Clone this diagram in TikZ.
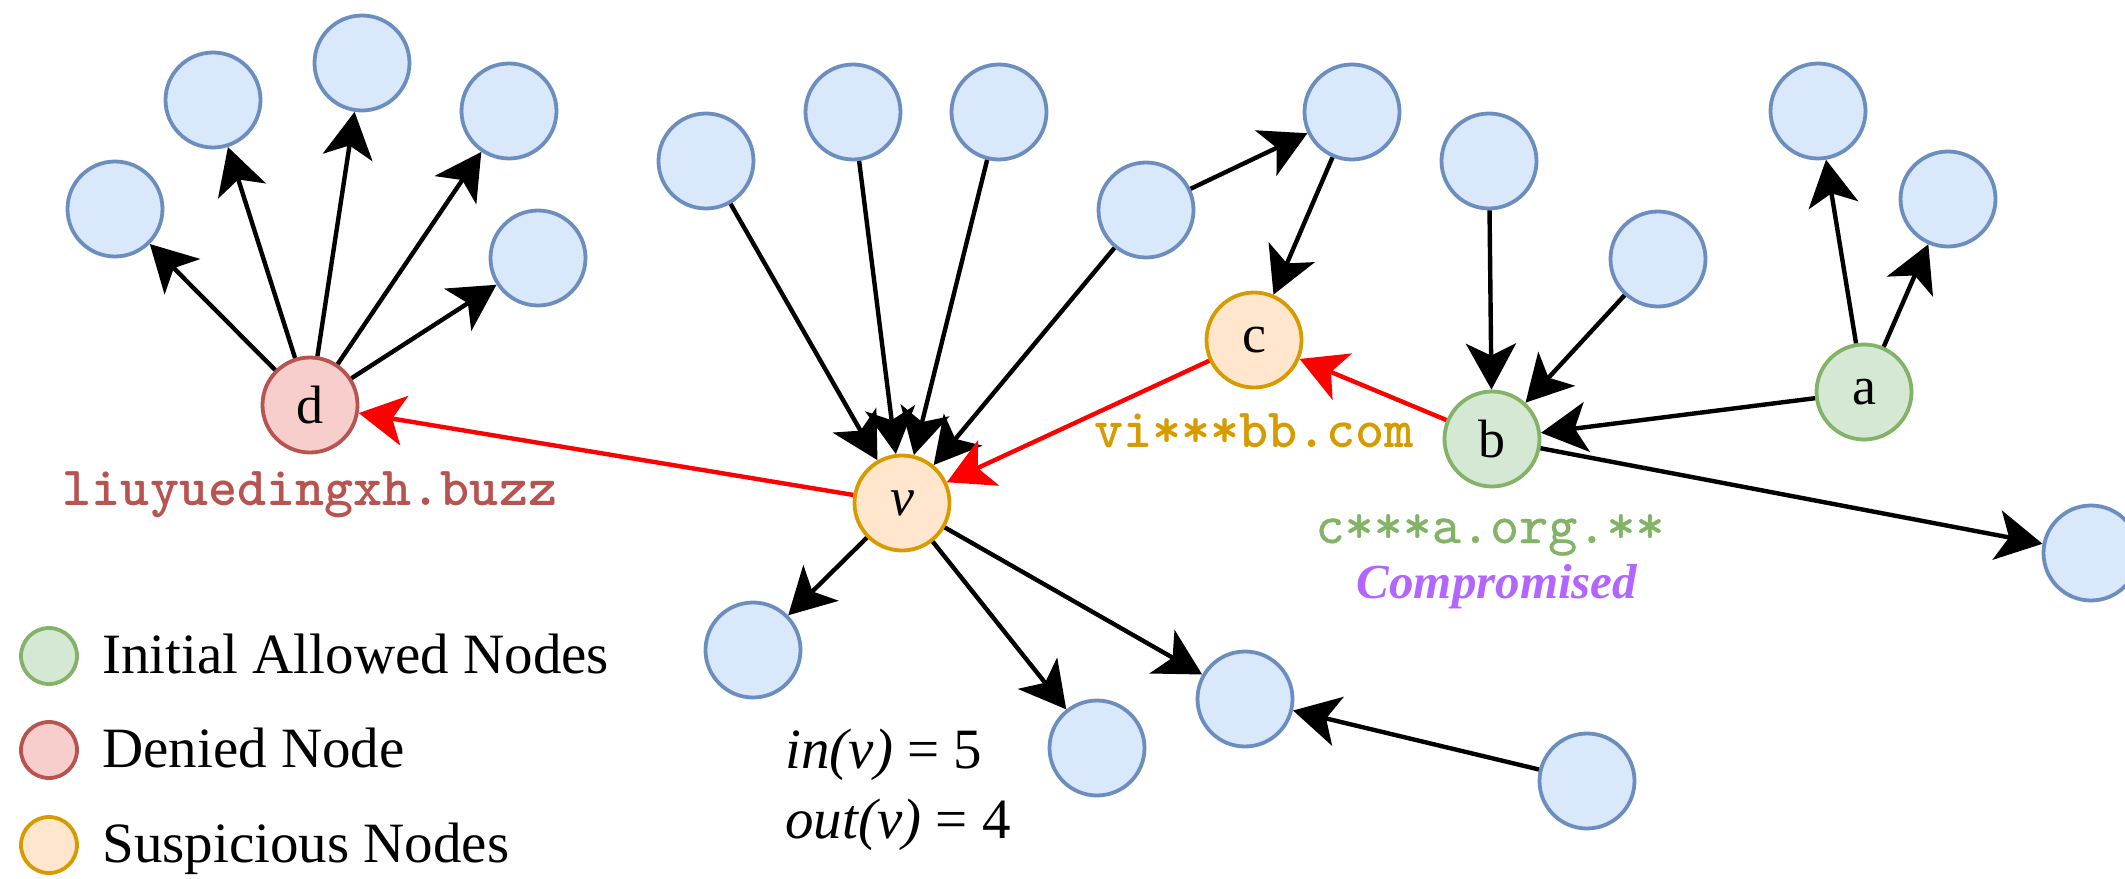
\documentclass[tikz,border=0pt]{standalone}
\usepackage{fontspec}
\setmainfont{Liberation Serif}
\newfontfamily\urlbold{lmmonolt10-bold.otf}
\newfontfamily\urlplain{lmmono10-regular.otf}[FakeBold=0.6]
\usetikzlibrary{arrows.meta}

\definecolor{blueFill}{HTML}{DAE8FC}
\definecolor{blueLine}{HTML}{6C8EBF}
\definecolor{greenFill}{HTML}{D5E8D4}
\definecolor{greenLine}{HTML}{82B366}
\definecolor{redFill}{HTML}{F8CECC}
\definecolor{redLine}{HTML}{B85450}
\definecolor{orangeFill}{HTML}{FFE6CC}
\definecolor{orangeLine}{HTML}{D79B00}
\definecolor{purpleText}{HTML}{B266FF}
\definecolor{alertRed}{HTML}{FF0000}

\begin{document}
\begin{tikzpicture}[x=0.5pt,y=-0.5pt,
  vertex/.style={circle, line width=1.9pt, minimum size=47.5pt, inner sep=0pt,
                 font=\fontsize{27}{30}\selectfont},
  plain/.style={vertex, draw=blueLine, fill=blueFill},
  allowed/.style={vertex, draw=greenLine, fill=greenFill},
  denied/.style={vertex, draw=redLine, fill=redFill},
  suspect/.style={vertex, draw=orangeLine, fill=orangeFill},
  keydot/.style={circle, line width=1.9pt, minimum size=28pt, inner sep=0pt},
  keytext/.style={anchor=base west, inner sep=0pt, font=\fontsize{28.5}{32}\selectfont},
  urllabel/.style={anchor=base, inner sep=0pt},
  link/.style={line width=2.2pt, -{Stealth[length=23pt,width=25pt,inset=6pt]}},
  blacklink/.style={link, draw=black},
  redlink/.style={link, draw=alertRed},
]
\useasboundingbox (0,0) rectangle (2125,878);

% left cluster around the denied node
\node[denied]  (d)  at (310,405) {d};
\node[plain]   (d1) at (115,209) {};
\node[plain]   (d2) at (213,100) {};
\node[plain]   (d3) at (362,63)  {};
\node[plain]   (d4) at (509,111) {};
\node[plain]   (d5) at (538,258) {};

% central suspicious node and its neighbours
\node[suspect] (v)  at (902,503) {\textit{v}};
\node[plain]   (v1) at (706,161) {};
\node[plain]   (v2) at (853,112) {};
\node[plain]   (v3) at (999,112) {};
\node[plain]   (v4) at (1146,210) {};
\node[plain]   (o1) at (753,650) {};
\node[plain]   (o2) at (1097,748) {};
\node[plain]   (o3) at (1245,699) {};
\node[plain]   (o4) at (1587,781) {};

% second suspicious node
\node[suspect] (c)  at (1254,340) {c};
\node[plain]   (c1) at (1352,112) {};

% allowed nodes on the right
\node[allowed] (b)  at (1492,439) {b};
\node[allowed] (a)  at (1864,392) {a};
\node[plain]   (b1) at (1489,161) {};
\node[plain]   (b2) at (1658,259) {};
\node[plain]   (a1) at (1818,111) {};
\node[plain]   (a2) at (1948,199) {};
\node[plain]   (br) at (2091,553) {};

% edges
\foreach \t in {d1,d2,d3,d4,d5} \draw[blacklink] (d) -- (\t);
\foreach \s in {v1,v2,v3,v4} \draw[blacklink] (\s) -- (v);
\draw[blacklink] (v4) -- (c1);
\draw[blacklink] (c1) -- (c);
\foreach \t in {o1,o2,o3} \draw[blacklink] (v) -- (\t);
\draw[blacklink] (o4) -- (o3);
\draw[blacklink] (b1) -- (b);
\draw[blacklink] (b2) -- (b);
\draw[blacklink] (a) -- (b);
\draw[blacklink] (a) -- (a1);
\draw[blacklink] (a) -- (a2);
\draw[blacklink] (b) -- (br);
\draw[redlink] (b) -- (c);
\draw[redlink] (c) -- (v);
\draw[redlink] (v) -- (d);

% domain labels
\node[urllabel, text=redLine, font=\urlbold\fontsize{27.7}{32}\selectfont] (ld) at (310,505)
  {liuyuedingxh.buzz};
\node[urllabel, text=orangeLine, font=\urlbold\fontsize{27.7}{32}\selectfont] (lc) at (1254,447)
  {vi***bb.com};
\node[urllabel, text=greenLine, font=\urlplain\fontsize{27.7}{32}\selectfont] (lb) at (1490,543)
  {c***a.org.**};
\node[anchor=base, inner sep=0pt, text=purpleText,
      font=\bfseries\itshape\fontsize{24.5}{28}\selectfont] (lcomp) at (1497,598) {Compromised};

% degree annotation
\node[keytext] (indeg)  at (785,768) {\textit{in(v)} = 5};
\node[keytext] (outdeg) at (785,838) {\textit{out(v)} = 4};

% legend
\node[keydot, draw=greenLine, fill=greenFill]   (k1) at (49,656) {};
\node[keydot, draw=redLine, fill=redFill]       (k2) at (49,750) {};
\node[keydot, draw=orangeLine, fill=orangeFill] (k3) at (49,845) {};
\node[keytext] (t1) at (102,673) {Initial Allowed Nodes};
\node[keytext] (t2) at (102,767) {Denied Node};
\node[keytext] (t3) at (102,862) {Suspicious Nodes};
\end{tikzpicture}
\end{document}
